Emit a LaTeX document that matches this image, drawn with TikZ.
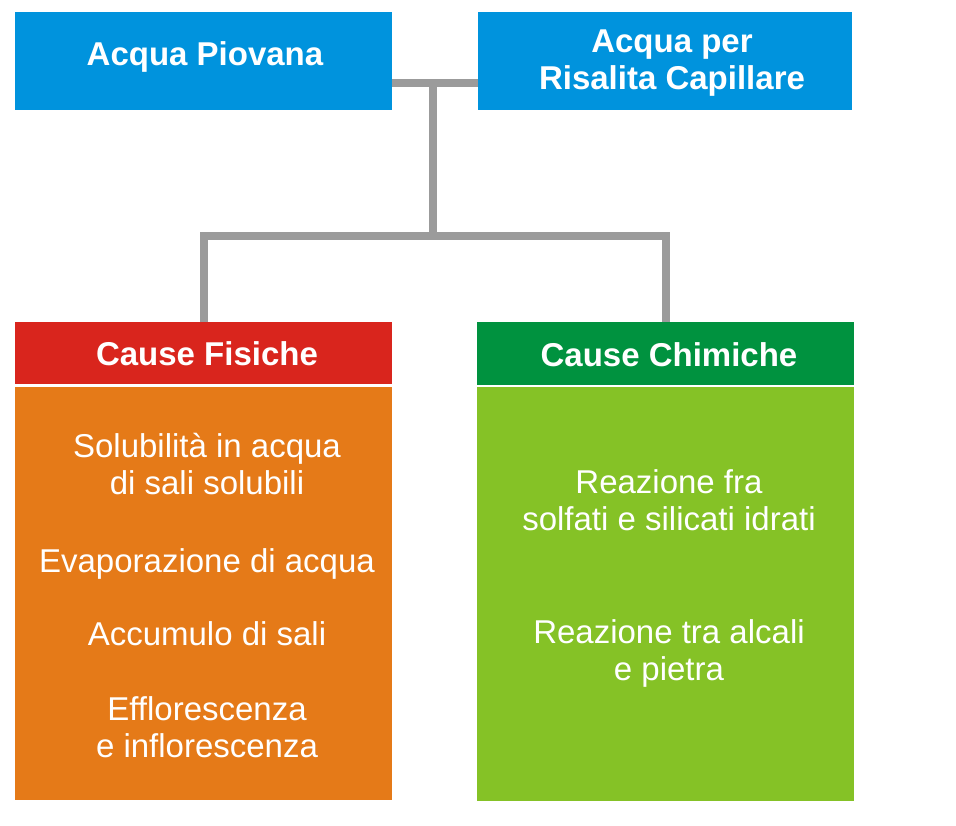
\documentclass[tikz,border=0pt]{standalone}
\usepackage{fontspec}
\setmainfont{Liberation Sans}
\definecolor{cblue}{RGB}{0,147,221}
\definecolor{cred}{RGB}{217,37,29}
\definecolor{corange}{RGB}{229,122,24}
\definecolor{cdgreen}{RGB}{0,146,63}
\definecolor{clime}{RGB}{133,194,38}
\definecolor{cgray}{RGB}{155,155,155}
\tikzset{
  box/.style={rectangle, inner sep=0pt, outer sep=0pt, draw=none},
  ttl/.style={anchor=base, text=white, font=\fontsize{33}{37}\selectfont\bfseries, inner sep=0pt},
  txt/.style={anchor=base, text=white, font=\fontsize{33}{37}\selectfont, inner sep=0pt},
  conn/.style={draw=cgray, line width=8pt, line join=miter}
}
\begin{document}
\begin{tikzpicture}[x=1pt,y=-1pt]
\useasboundingbox (0,0) rectangle (956,825);
% boxes
\node[box, fill=cblue, minimum width=377pt, minimum height=98pt] (pio) at (203.5,61) {};
\node[box, fill=cblue, minimum width=374pt, minimum height=98pt] (ris) at (665,61) {};
\node[box, fill=cred, minimum width=377pt, minimum height=62pt] (fis) at (203.5,353) {};
\node[box, fill=corange, minimum width=377pt, minimum height=413pt] (fisb) at (203.5,593.5) {};
\node[box, fill=cdgreen, minimum width=377pt, minimum height=63pt] (chi) at (665.5,353.5) {};
\node[box, fill=clime, minimum width=377pt, minimum height=414pt] (chib) at (665.5,594) {};
% connectors
\coordinate (j1) at (433,83);
\coordinate (j2) at (433,236);
\draw[conn] (pio.east |- j1) -- (ris.west |- j1);
\draw[conn] (j1) -- (j2);
\draw[conn] (fis.north) -- (fis.north |- j2) -- (chi.north |- j2) -- (chi.north);
% titles
\node[ttl] (t1) at (205,65) {Acqua Piovana};
\node[ttl] (t2a) at (672,52) {Acqua per};
\node[ttl] (t2b) at (672,89) {Risalita Capillare};
\node[ttl] (t3) at (207,365) {Cause Fisiche};
\node[ttl] (t4) at (669,366) {Cause Chimiche};
% orange texts
\node[txt] (a1) at (207,457) {Solubilità in acqua};
\node[txt] (a2) at (207,494) {di sali solubili};
\node[txt] (a3) at (207,572) {Evaporazione di acqua};
\node[txt] (a4) at (207,645) {Accumulo di sali};
\node[txt] (a5) at (207,720) {Efflorescenza};
\node[txt] (a6) at (207,757) {e inflorescenza};
% green texts
\node[txt] (b1) at (669,493) {Reazione fra};
\node[txt] (b2) at (669,530) {solfati e silicati idrati};
\node[txt] (b3) at (669,643) {Reazione tra alcali};
\node[txt] (b4) at (669,680) {e pietra};
\end{tikzpicture}
\end{document}
